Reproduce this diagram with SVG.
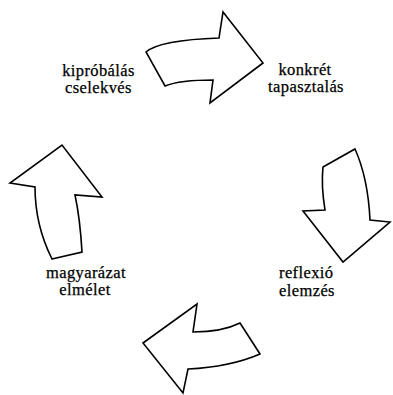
<svg xmlns="http://www.w3.org/2000/svg" width="393" height="395" viewBox="0 0 393 395">
<style>
.arrow{fill:#fff;stroke:#000;stroke-width:1.6;stroke-linejoin:miter}
.lbl{font-family:"Liberation Serif","Times New Roman",serif;font-size:16.5px;letter-spacing:0.4px;fill:#000;stroke:#000;stroke-width:0.25}
</style>
<rect width="393" height="395" fill="#fff"/>
<g id="connectors">
<path id="arrow-top" class="arrow" d="M146,52 Q160,40 219,38 L223,12 L263,63 L210,103 L213,80 Q180,80 165,86 Z"/>
<path id="arrow-right" class="arrow" d="M323,167 L355,149 Q368,178 370,220 L390,222 L343,262 L303,211 L325,210 Q321,185 323,167 Z"/>
<path id="arrow-bottom" class="arrow" d="M240,323 L260,354 Q230,367 188,369 L183,393 L143,343 L197,304 L193,332 Q222,332 240,323 Z"/>
<path id="arrow-left" class="arrow" d="M52,259 L82,252 Q80,218 75,195 L102,197 L62,145 L10,183 L35,187 Q35,225 52,259 Z"/>
</g>
<g id="node-kiprobalas">
<text class="lbl" x="98.5" y="75.5" text-anchor="middle">kipróbálás</text>
<text class="lbl" x="98.5" y="93" text-anchor="middle">cselekvés</text>
</g>
<g id="node-konkret">
<text class="lbl" x="305" y="74.5" text-anchor="middle">konkrét</text>
<text class="lbl" x="306" y="92" text-anchor="middle">tapasztalás</text>
</g>
<g id="node-reflexio">
<text class="lbl" x="279" y="278">reflexió</text>
<text class="lbl" x="279" y="295.5">elemzés</text>
</g>
<g id="node-magyarazat">
<text class="lbl" x="86" y="277.5" text-anchor="middle">magyarázat</text>
<text class="lbl" x="85" y="295" text-anchor="middle">elmélet</text>
</g>
</svg>
